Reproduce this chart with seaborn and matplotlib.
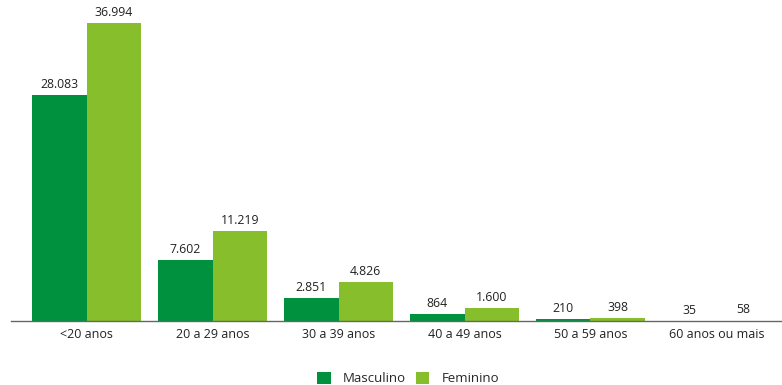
import matplotlib
matplotlib.use("Agg")
import matplotlib.pyplot as plt
import seaborn as sns
import pandas as pd
from matplotlib.patches import Patch

categorias = ["<20 anos", "20 a 29 anos", "30 a 39 anos", "40 a 49 anos",
              "50 a 59 anos", "60 anos ou mais"]
masculino = [28083, 7602, 2851, 864, 210, 35]
feminino = [36994, 11219, 4826, 1600, 398, 58]
series = ["Masculino", "Feminino"]
cores = {"Masculino": "#00913F", "Feminino": "#86BF2B"}

df = pd.DataFrame({
    "faixa": categorias * 2,
    "sexo": ["Masculino"] * len(categorias) + ["Feminino"] * len(categorias),
    "valor": masculino + feminino,
})

sns.set_theme(style="white")
plt.rcParams["font.family"] = ["Open Sans", "DejaVu Sans"]

fig = plt.figure(figsize=(7.82, 3.85), dpi=100)
ax = fig.add_axes([0.014, 0.166, 0.986, 0.834])

sns.barplot(data=df, x="faixa", y="valor", hue="sexo", order=categorias,
            hue_order=series, palette=cores, width=0.86, saturation=1,
            linewidth=0, edgecolor="none", legend=False, ax=ax)

def fmt(v):
    return f"{int(v):,}".replace(",", ".")

for cont in ax.containers:
    ax.bar_label(cont, labels=[fmt(b.get_height()) for b in cont],
                 padding=3, fontsize=8.8, color="#222222")

ax.set_xlim(-0.6, 5.52)
ax.set_ylim(0, 39850)
ax.set_xlabel("")
ax.set_ylabel("")
ax.set_yticks([])
for s in ["top", "right", "left"]:
    ax.spines[s].set_visible(False)
ax.spines["bottom"].set_color("#666666")
ax.spines["bottom"].set_linewidth(1.0)
ax.tick_params(axis="x", length=0, pad=5, labelsize=9, colors="#222222")

handles = [Patch(facecolor=cores[s], edgecolor="none") for s in series]
fig.legend(handles, series, loc="center", bbox_to_anchor=(0.522, 0.017),
           ncol=2, frameon=False, fontsize=9.5, handlelength=1.0,
           handleheight=1.1, columnspacing=0.8, handletextpad=0.9,
           borderaxespad=0)

fig.savefig("out.png", dpi=100)
